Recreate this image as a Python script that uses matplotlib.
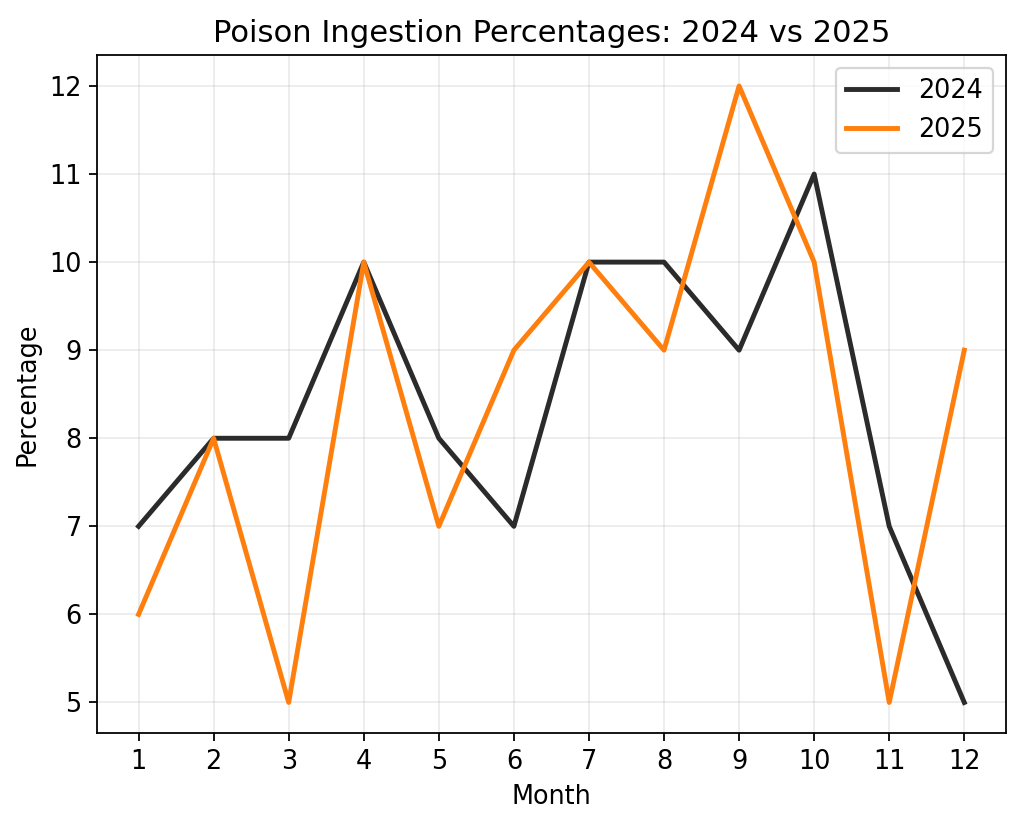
import matplotlib.pyplot as plt

months = list(range(1, 13))
pct_2024 = [7, 8, 8, 10, 8, 7, 10, 10, 9, 11, 7, 5]
pct_2025 = [6, 8, 5, 10, 7, 9, 10, 9, 12, 10, 5, 9]


def plot():
    plt.rcParams['font.size'] = 11.5
    fig = plt.figure(figsize=(6.4, 5.14375), dpi=160)
    ax = fig.add_axes([0.095, 0.109, 0.887, 0.824])

    ax.plot(months, pct_2024, color='#2b2b2b', linewidth=2.2, label='2024')
    ax.plot(months, pct_2025, color='#ff7f0e', linewidth=2.2, label='2025')

    ax.set_xticks(months)
    ax.set_title('Poison Ingestion Percentages: 2024 vs 2025', fontsize=13.8)
    ax.set_xlabel('Month')
    ax.set_ylabel('Percentage')
    ax.grid(True, alpha=0.25)
    ax.legend(loc='upper right')

    plt.savefig('out.png', dpi=160)


if __name__ == '__main__':
    plot()
